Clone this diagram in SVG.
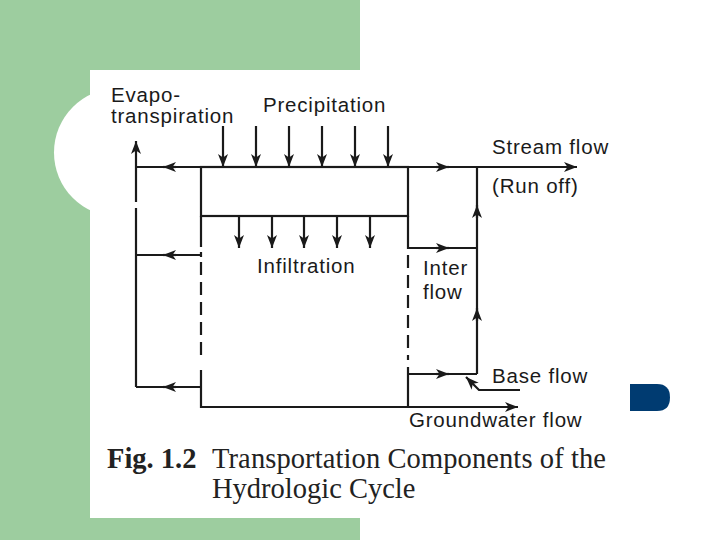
<svg xmlns="http://www.w3.org/2000/svg" width="720" height="540" viewBox="0 0 720 540">
<defs>
<style>
.ln{fill:none;stroke:#1a1a1a;stroke-width:2.2}
.ar{fill:none;stroke:#1a1a1a;stroke-width:2.2;marker-end:url(#ah)}
.dash{stroke-dasharray:13 7}
.lbl{font-family:"Liberation Sans",Arial,Helvetica,sans-serif;font-size:20.5px;letter-spacing:0.8px;fill:#1a1a1a}
.cap{font-family:"Liberation Serif","Times New Roman",serif;font-size:28.5px;fill:#222}
</style>
<marker id="ah" markerUnits="userSpaceOnUse" markerWidth="14" markerHeight="12" refX="13" refY="5.5" orient="auto" overflow="visible">
<path d="M0,0.5 L13,5.5 L0,10.5 L3.5,5.5 Z" fill="#1a1a1a"/>
</marker>
</defs>
<g id="background">
<rect x="0" y="0" width="720" height="540" fill="#ffffff"/>
<rect x="0" y="0" width="360" height="540" fill="#9dcd9f"/>
<rect x="90" y="70" width="630" height="448" fill="#ffffff"/>
<circle cx="118.5" cy="152.5" r="64.5" fill="#ffffff"/>
<path d="M630 384 H657 Q670 384 670 397.5 Q670 411 657 411 H630 Z" fill="#003b71"/>
</g>
<g id="surface-box">
<rect class="ln" x="201" y="167" width="207" height="49"/>
</g>
<g id="subsurface-box">
<path class="ln" d="M201 216 V247 M201 252 V257 M201 370 V407 H408 V367 M408 216 V249"/>
<path class="ln dash" d="M201 262 V358 M408 255 V360"/>
</g>
<g id="connectors">
<path class="ar" d="M136 167 H577"/>
<path class="ln" d="M136 387 V208"/>
<path class="ar" d="M136 202 V141"/>
<path class="ln" d="M201 255 H136 M201 387 H136"/>
<path class="ln" d="M408 248 H477 M408 374 H477 M477 374 V167"/>
<path class="ar" d="M201 407 H518"/>
<path class="ar" d="M520 390 H479 L466 377"/>
<path class="ar" d="M223 126 V167"/>
<path class="ar" d="M256 126 V167"/>
<path class="ar" d="M289 126 V167"/>
<path class="ar" d="M322 126 V167"/>
<path class="ar" d="M355 126 V167"/>
<path class="ar" d="M388 126 V167"/>
<path class="ar" d="M239 217 V248"/>
<path class="ar" d="M272 217 V248"/>
<path class="ar" d="M304 217 V248"/>
<path class="ar" d="M337 217 V248"/>
<path class="ar" d="M370 217 V248"/>
<path class="ar" d="M176 167 H163"/>
<path class="ar" d="M176 255 H163"/>
<path class="ar" d="M176 387 H163"/>
<path class="ar" d="M436 167 H449"/>
<path class="ar" d="M436 248 H449"/>
<path class="ar" d="M436 374 H449"/>
<path class="ar" d="M477 218 V205"/>
<path class="ar" d="M477 321 V308"/>
</g>
<g id="label-evapo"><text class="lbl" x="111" y="102">Evapo-</text><text class="lbl" x="111" y="123">transpiration</text></g>
<g id="label-precipitation"><text class="lbl" x="263" y="112">Precipitation</text></g>
<g id="label-stream"><text class="lbl" x="492" y="154">Stream flow</text><text class="lbl" x="492" y="193">(Run off)</text></g>
<g id="label-infiltration"><text class="lbl" x="257" y="273">Infiltration</text></g>
<g id="label-interflow"><text class="lbl" x="423" y="275">Inter</text><text class="lbl" x="423" y="299">flow</text></g>
<g id="label-baseflow"><text class="lbl" x="492" y="383">Base flow</text></g>
<g id="label-groundwater"><text class="lbl" x="409" y="427">Groundwater flow</text></g>
<g id="caption">
<text class="cap" x="107" y="468" font-weight="bold" font-size="27">Fig. 1.2</text>
<text class="cap" x="212" y="468" textLength="394">Transportation Components of the</text>
<text class="cap" x="212" y="498">Hydrologic Cycle</text>
</g>
</svg>
